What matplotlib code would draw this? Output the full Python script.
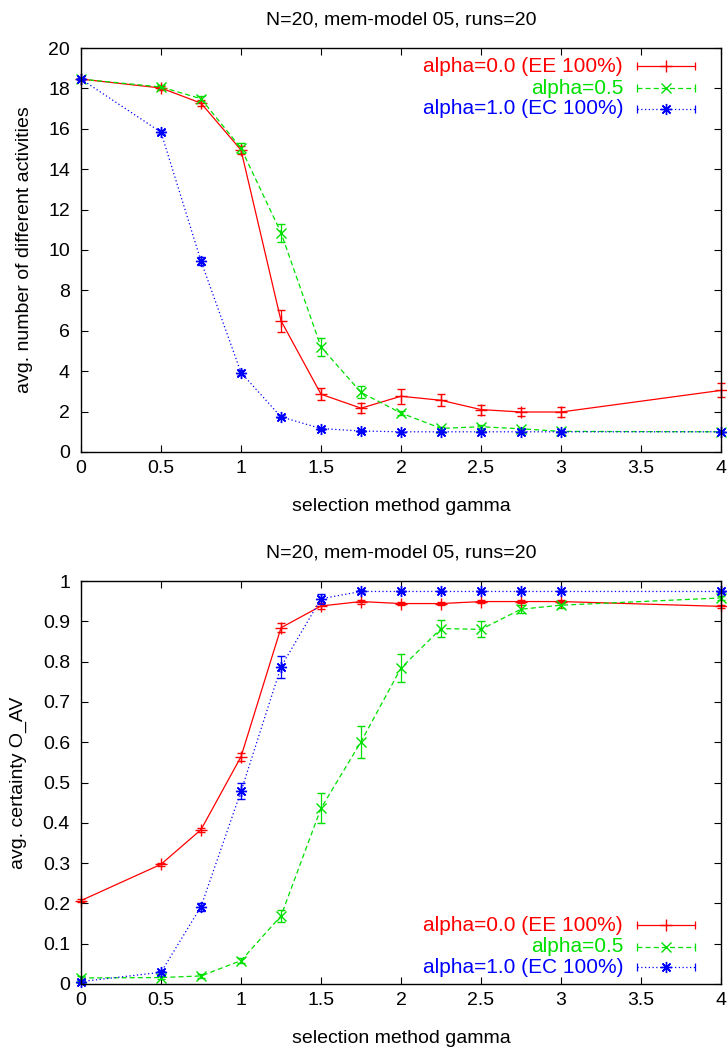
import matplotlib
matplotlib.use('Agg')
import matplotlib.pyplot as plt
from matplotlib.ticker import FuncFormatter

plt.rcParams['font.family'] = ['Liberation Sans', 'DejaVu Sans']

title = "N=20, mem-model 05, runs=20"
xlabel = "selection method gamma"
ylabel_top = "avg. number of different activities"
ylabel_bot = "avg. certainty O_AV"
labels = ["alpha=0.0 (EE 100%)", "alpha=0.5", "alpha=1.0 (EC 100%)"]

gamma = [0, 0.5, 0.75, 1, 1.25, 1.5, 1.75, 2, 2.25, 2.5, 2.75, 3, 4]

# top panel: avg. number of different activities
act_a00 = [18.46, 18.02, 17.27, 14.95, 6.5, 2.86, 2.17, 2.76, 2.56, 2.1, 1.98, 1.98, 3.05]
act_a00_err = [0.05, 0.1, 0.15, 0.2, 0.55, 0.3, 0.25, 0.37, 0.3, 0.25, 0.2, 0.25, 0.35]
act_a05 = [18.46, 18.07, 17.49, 15.04, 10.86, 5.2, 2.95, 1.93, 1.17, 1.25, 1.15, 1.02, 1.0]
act_a05_err = [0.05, 0.1, 0.12, 0.25, 0.45, 0.45, 0.3, 0.12, 0.05, 0.08, 0.05, 0.02, 0.0]
act_a10 = [18.46, 15.83, 9.45, 3.93, 1.74, 1.16, 1.04, 1.0, 1.0, 1.0, 1.0, 1.0, 1.0]
act_a10_err = [0.05, 0.1, 0.2, 0.12, 0.08, 0.05, 0.03, 0.0, 0.0, 0.0, 0.0, 0.0, 0.0]

# bottom panel: avg. certainty O_AV
cer_a00 = [0.207, 0.297, 0.383, 0.564, 0.884, 0.938, 0.949, 0.944, 0.944, 0.949, 0.949, 0.949, 0.937]
cer_a00_err = [0.003, 0.004, 0.005, 0.01, 0.011, 0.008, 0.005, 0.004, 0.004, 0.004, 0.004, 0.004, 0.004]
cer_a05 = [0.015, 0.016, 0.02, 0.058, 0.169, 0.436, 0.601, 0.784, 0.882, 0.88, 0.93, 0.94, 0.958]
cer_a05_err = [0.004, 0.004, 0.004, 0.006, 0.015, 0.037, 0.04, 0.035, 0.02, 0.02, 0.01, 0.006, 0.004]
cer_a10 = [0.006, 0.029, 0.192, 0.478, 0.787, 0.956, 0.974, 0.974, 0.974, 0.974, 0.974, 0.974, 0.974]
cer_a10_err = [0.003, 0.004, 0.01, 0.02, 0.027, 0.012, 0.003, 0.002, 0.002, 0.002, 0.002, 0.002, 0.002]

colors = ['#ff0000', '#00e000', '#0000ff']
linestyles = ['-', (0, (4, 2.5)), (0, (1, 2))]
markers = ['+', 'x', (8, 2, 0)]
msizes = [8, 7, 8]

FS = 14

fig = plt.figure(figsize=(7.27, 10.48), dpi=100)
ax1 = fig.add_axes([81/727, 1-452/1048, 640/727, 404/1048])
ax2 = fig.add_axes([81/727, 1-984/1048, 640/727, 403/1048])


def style_axes(ax, ymax, ystep, fmt):
    ax.set_xlim(0, 4)
    ax.set_ylim(0, ymax)
    ax.set_xticks([0, 0.5, 1, 1.5, 2, 2.5, 3, 3.5, 4])
    n = int(round(ymax / ystep))
    ax.set_yticks([i * ystep for i in range(n + 1)])
    ax.xaxis.set_major_formatter(FuncFormatter(lambda v, p: f"{v:g}"))
    ax.yaxis.set_major_formatter(FuncFormatter(fmt))
    ax.tick_params(direction='in', top=True, right=True, length=5, width=0.8,
                   labelsize=FS, colors='black')
    ax.tick_params(axis='x', pad=6)
    ax.tick_params(axis='y', pad=8)
    for s in ax.spines.values():
        s.set_linewidth(1.0)
    ax.set_title(title, fontsize=FS, pad=17)
    ax.set_xlabel(xlabel, fontsize=FS, labelpad=15)


def draw_series(ax, ys, errs):
    for y, e, c, ls, m, ms in zip(ys, errs, colors, linestyles, markers, msizes):
        ax.errorbar(gamma, y, yerr=e, color=c, linestyle=ls, linewidth=0.9,
                    marker=m, markersize=ms, markeredgewidth=1.0,
                    capsize=3, elinewidth=0.9, capthick=0.9, clip_on=False)


def draw_key(ax, ypos):
    xt, x0, x1 = 0.847, 0.869, 0.959
    for lab, c, ls, m, ms, y in zip(labels, colors, linestyles, markers, msizes, ypos):
        ax.text(xt, y, lab, color=c, ha='right', va='center', fontsize=FS + 1,
                transform=ax.transAxes)
        ax.plot([x0, x1], [y, y], color=c, linestyle=ls, linewidth=0.9,
                transform=ax.transAxes, clip_on=False)
        ax.plot([(x0 + x1) / 2], [y], color=c, marker=m, markersize=ms,
                markeredgewidth=1.0, transform=ax.transAxes, clip_on=False)
        ax.plot([x0, x1], [y, y], color=c, linestyle='none', marker='|',
                markersize=6, markeredgewidth=0.9, transform=ax.transAxes,
                clip_on=False)


draw_series(ax1, [act_a00, act_a05, act_a10], [act_a00_err, act_a05_err, act_a10_err])
style_axes(ax1, 20, 2, lambda v, p: f"{v:g}")
ax1.set_ylabel(ylabel_top, fontsize=FS, labelpad=11)
draw_key(ax1, [0.955, 0.900, 0.850])

draw_series(ax2, [cer_a00, cer_a05, cer_a10], [cer_a00_err, cer_a05_err, cer_a10_err])
style_axes(ax2, 1.0, 0.1, lambda v, p: f"{round(v, 1):g}")
ax2.set_ylabel(ylabel_bot, fontsize=FS, labelpad=11)
draw_key(ax2, [0.146, 0.092, 0.042])

fig.savefig('out.png', dpi=100)
